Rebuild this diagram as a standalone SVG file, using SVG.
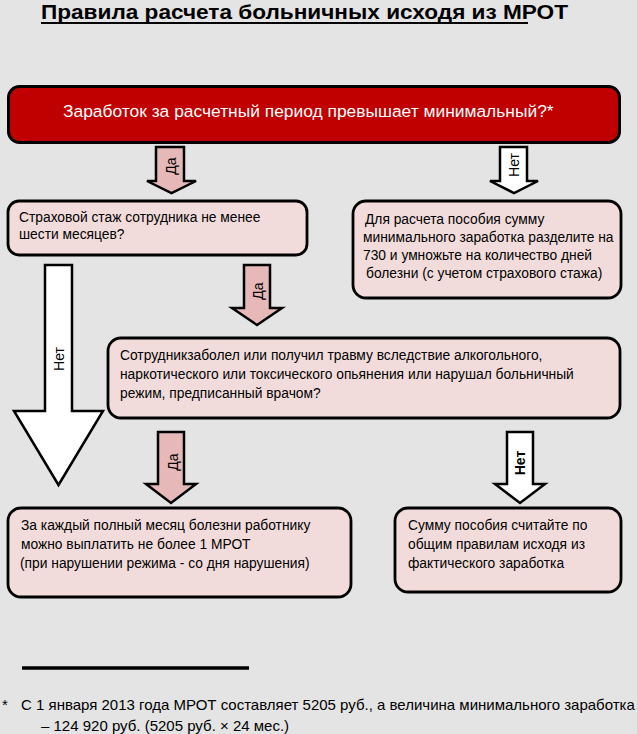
<svg xmlns="http://www.w3.org/2000/svg" width="637" height="734" viewBox="0 0 637 734">
<style>
  .t { font-family: "Liberation Sans", Arial, sans-serif; fill: #000; }
  .box { fill: #f2dcdb; stroke: #000; stroke-width: 2.8; }
  .bt { font-size: 13.8px; }
  .lbl { font-family: "Liberation Sans", Arial, sans-serif; font-size: 14px; fill: #000; text-anchor: middle; }
  .ap { fill: #e6b9b8; stroke: #000; stroke-width: 2.5; stroke-linejoin: miter; }
  .aw { fill: #ffffff; stroke: #000; stroke-width: 2.5; stroke-linejoin: miter; }
</style>
<rect x="0" y="0" width="637" height="734" fill="#e4e4e4"/>

<g id="title">
  <text class="t" x="41" y="18.5" font-size="21" font-weight="bold" textLength="527" lengthAdjust="spacingAndGlyphs">Правила расчета больничных исходя из МРОТ</text>
  <line x1="41" y1="23" x2="528" y2="23" stroke="#000" stroke-width="2"/>
</g>

<g id="n-start">
  <rect x="8.5" y="86.5" width="611" height="56" rx="11" fill="#c00000" stroke="#000" stroke-width="3"/>
  <text class="t" x="63" y="117" font-size="17.4" style="fill:#fff">Заработок за расчетный период превышает минимальный?*</text>
</g>

<g id="n-stazh">
  <rect class="box" x="8" y="201" width="299" height="54" rx="11"/>
  <text class="t bt" x="19" y="222">Страховой стаж сотрудника не менее</text>
  <text class="t bt" x="19" y="239">шести месяцев?</text>
</g>

<g id="n-min">
  <rect class="box" x="353" y="201" width="268" height="97" rx="13"/>
  <text class="t bt" x="365" y="224">Для расчета пособия сумму</text>
  <text class="t bt" x="363" y="242">минимального заработка разделите на</text>
  <text class="t bt" x="363" y="260">730 и умножьте на количество дней</text>
  <text class="t bt" x="366" y="278">болезни (с учетом страхового стажа)</text>
</g>

<g id="n-alco">
  <rect class="box" x="108" y="338" width="512" height="80" rx="13"/>
  <text class="t bt" x="120" y="360">Сотрудникзаболел или получил травму вследствие алкогольного,</text>
  <text class="t bt" x="120" y="379">наркотического или токсического опьянения или нарушал больничный</text>
  <text class="t bt" x="120" y="398">режим, предписанный врачом?</text>
</g>

<g id="n-mrot">
  <rect class="box" x="8" y="508" width="343" height="89" rx="13"/>
  <text class="t bt" x="21" y="530">За каждый полный месяц болезни работнику</text>
  <text class="t bt" x="21" y="549">можно выплатить не более 1 МРОТ</text>
  <text class="t bt" x="20" y="568">(при нарушении режима - со дня нарушения)</text>
</g>

<g id="n-general">
  <rect class="box" x="395" y="508" width="226" height="84" rx="13"/>
  <text class="t bt" x="408" y="530">Сумму пособия считайте по</text>
  <text class="t bt" x="408" y="549">общим правилам исходя из</text>
  <text class="t bt" x="408" y="568">фактического заработка</text>
</g>

<g id="connectors">
  <path class="ap" d="M156,147 H184 V181 H196 L171.5,193 L147,181 H156 Z"/>
  <text class="lbl" transform="translate(175.5,166) rotate(-90)">Да</text>

  <path class="aw" d="M500,147 H527 V181 H538 L514,193 L490,181 H500 Z"/>
  <text class="lbl" transform="translate(519,165) rotate(-90)">Нет</text>

  <path class="ap" d="M244,265 H270 V308 H282 L257,325 L232,308 H244 Z"/>
  <text class="lbl" transform="translate(262.5,291) rotate(-90)">Да</text>

  <path class="aw" d="M45,265 H72 V411 H103 L58.5,485 L14,411 H45 Z"/>
  <text class="lbl" transform="translate(64,359) rotate(-90)">Нет</text>

  <path class="ap" d="M158,432 H184 V484 H196 L171,503 L146,484 H158 Z"/>
  <text class="lbl" transform="translate(177.5,462) rotate(-90)">Да</text>

  <path class="aw" d="M507,432 H533 V484 H545 L520,503 L495,484 H507 Z"/>
  <text class="lbl" transform="translate(525,463) rotate(-90)" font-weight="bold">Нет</text>
</g>

<g id="footnote">
  <line x1="22" y1="668" x2="249" y2="668" stroke="#000" stroke-width="3.5"/>
  <text class="t" x="2" y="710" font-size="15">*</text>
  <text class="t" x="21" y="710" font-size="15">С 1 января 2013 года МРОТ составляет 5205 руб., а величина минимального заработка</text>
  <text class="t" x="41" y="731" font-size="15">– 124 920 руб. (5205 руб. × 24 мес.)</text>
</g>
</svg>
